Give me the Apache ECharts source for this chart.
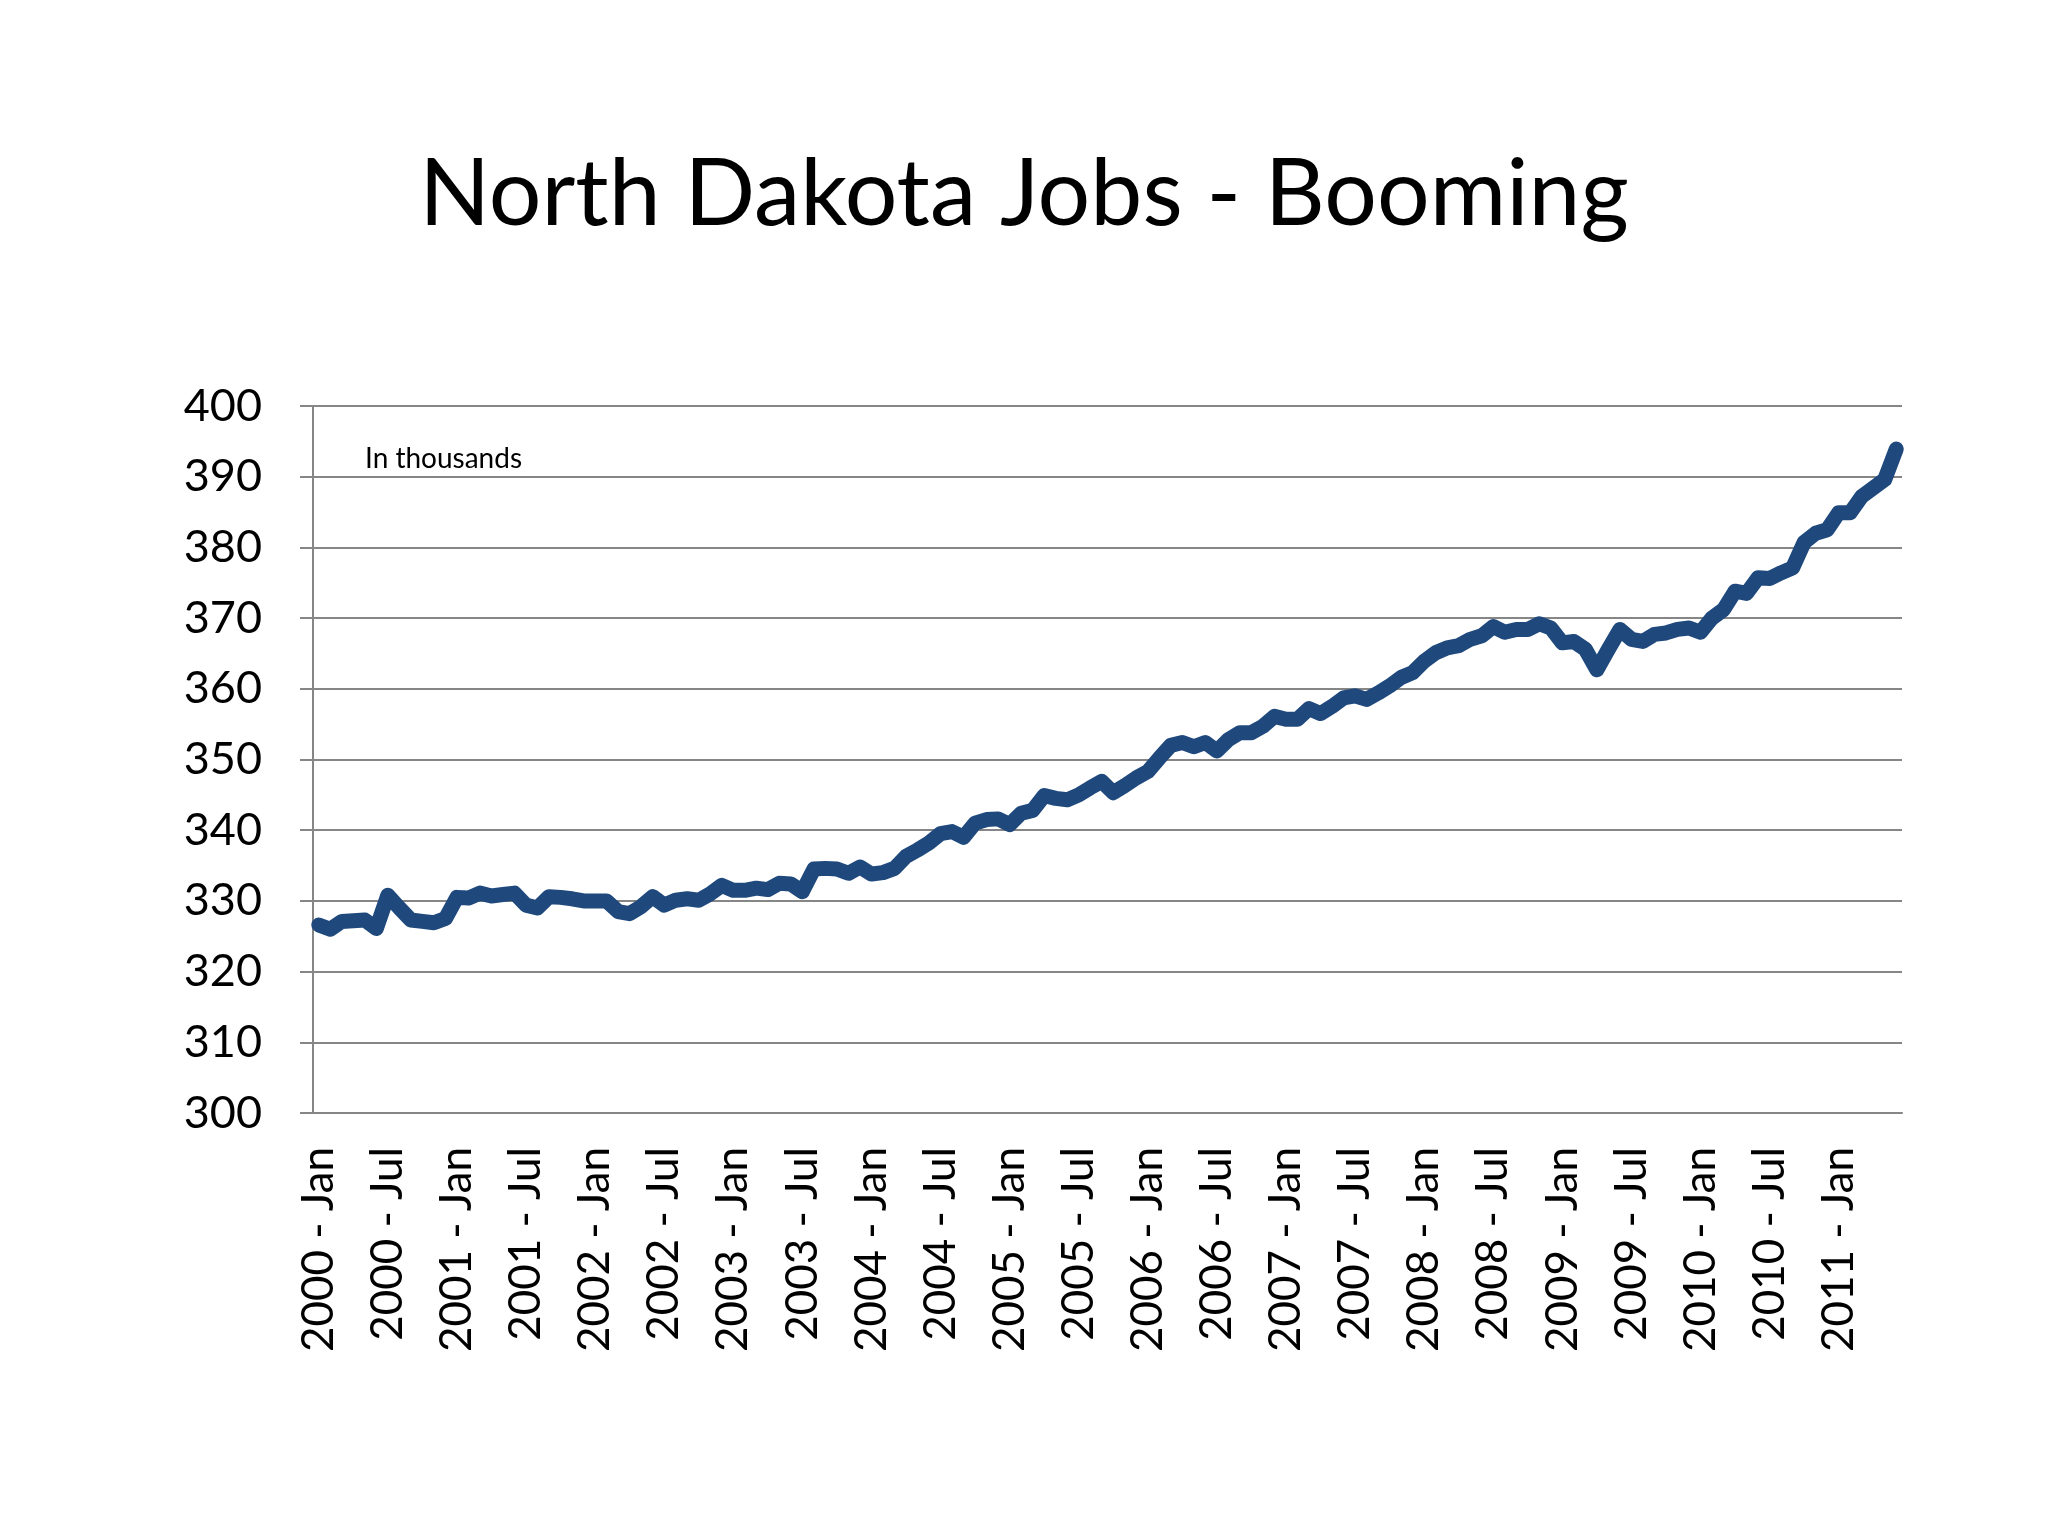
<!DOCTYPE html>
<html>
<head>
<meta charset="utf-8">
<title>North Dakota Jobs - Booming</title>
<script src="https://cdn.jsdelivr.net/npm/echarts@6/dist/echarts.min.js"></script>
<style>
  html, body { margin: 0; padding: 0; background: #fff; }
  #chart { width: 2048px; height: 1536px; }
</style>
</head>
<body>
<div id="chart"></div>
<script>
// monthly jobs, in thousands (Jan 2000 - Jun 2011)
const jobs2000 = [326.6, 326.0, 327.1, 327.2, 327.3, 326.1, 330.8, 329.0, 327.3, 327.1, 326.9, 327.5]
const jobs2001 = [330.5, 330.4, 331.1, 330.7, 330.9, 331.1, 329.4, 329.0, 330.6, 330.5, 330.3, 330.0]
const jobs2002 = [330.0, 330.0, 328.5, 328.2, 329.2, 330.6, 329.4, 330.1, 330.3, 330.1, 331.0, 332.2]
const jobs2003 = [331.5, 331.5, 331.8, 331.6, 332.5, 332.4, 331.3, 334.5, 334.6, 334.5, 333.9, 334.8]
const jobs2004 = [333.8, 334.0, 334.6, 336.3, 337.2, 338.2, 339.5, 339.8, 339.0, 341.0, 341.5, 341.6]
const jobs2005 = [340.8, 342.4, 342.8, 344.9, 344.5, 344.3, 345.0, 346.0, 346.9, 345.3, 346.3, 347.4]
const jobs2006 = [348.3, 350.2, 352.0, 352.4, 351.8, 352.4, 351.2, 352.8, 353.8, 353.8, 354.7, 356.1]
const jobs2007 = [355.7, 355.7, 357.2, 356.5, 357.5, 358.7, 359.0, 358.5, 359.4, 360.4, 361.6, 362.3]
const jobs2008 = [363.9, 365.1, 365.8, 366.1, 367.0, 367.5, 368.8, 368.0, 368.4, 368.4, 369.2, 368.6]
const jobs2009 = [366.5, 366.7, 365.6, 362.7, 365.6, 368.4, 367.0, 366.7, 367.7, 367.9, 368.4, 368.6]
const jobs2010 = [368.0, 370.0, 371.2, 373.8, 373.5, 375.7, 375.6, 376.4, 377.1, 380.7, 382.0, 382.5]
const jobs2011 = [384.9, 384.9, 387.2, 388.4, 389.6, 393.9]

const years = [2000, 2001, 2002, 2003, 2004, 2005, 2006, 2007, 2008, 2009, 2010, 2011]
const monthNames = ['Jan', 'Feb', 'Mar', 'Apr', 'May', 'Jun', 'Jul', 'Aug', 'Sep', 'Oct', 'Nov', 'Dec']

const yearlyJobs = [jobs2000, jobs2001, jobs2002, jobs2003, jobs2004, jobs2005,
  jobs2006, jobs2007, jobs2008, jobs2009, jobs2010, jobs2011]

// build category labels + flat series
const categories = []
const jobs = []
yearlyJobs.forEach((list, yi) => {
  list.forEach((v, mi) => {
    categories.push(years[yi] + ' - ' + monthNames[mi])
    jobs.push(v)
  })
})

const gridGray = '#868686'
const fontFamily = 'Lato, "Open Sans", sans-serif'

const chart = echarts.init(document.getElementById('chart'))
chart.setOption({
  animation: false,
  backgroundColor: '#ffffff',
  title: [
    {
      text: 'North Dakota Jobs - Booming',
      left: 'center',
      top: 143,
      textStyle: { fontFamily: fontFamily, fontSize: 93, fontWeight: 'normal', color: '#000' }
    },
    {
      text: 'In thousands',
      left: 360,
      top: 440,
      textStyle: { fontFamily: fontFamily, fontSize: 28, fontWeight: 'normal', color: '#000' }
    }
  ],
  grid: {
    left: 313,
    right: 146,
    top: 406,
    bottom: 423,
    containLabel: false
  },
  xAxis: {
    type: 'category',
    data: categories,
    boundaryGap: true,
    axisLine: { lineStyle: { color: gridGray, width: 2 } },
    axisTick: {
      interval: 0,
      length: 13,
      lineStyle: { color: gridGray, width: 2 }
    },
    axisLabel: {
      interval: 5,
      rotate: 90,
      margin: 34,
      color: '#000',
      fontFamily: fontFamily,
      fontSize: 44
    },
    splitLine: { show: false }
  },
  yAxis: {
    type: 'value',
    min: 300,
    max: 400,
    interval: 10,
    axisLine: { show: true, lineStyle: { color: gridGray, width: 2 } },
    axisTick: { show: true, length: 13, lineStyle: { color: gridGray, width: 2 } },
    axisLabel: {
      margin: 51,
      color: '#000',
      fontFamily: fontFamily,
      fontSize: 45
    },
    splitLine: { lineStyle: { color: gridGray, width: 2 } }
  },
  series: [
    {
      name: 'Jobs',
      type: 'line',
      data: jobs,
      showSymbol: false,
      smooth: false,
      lineStyle: {
        color: '#1F497D',
        width: 15,
        cap: 'round',
        join: 'round'
      },
      itemStyle: { color: '#1F497D' }
    }
  ]
})
</script>
</body>
</html>
